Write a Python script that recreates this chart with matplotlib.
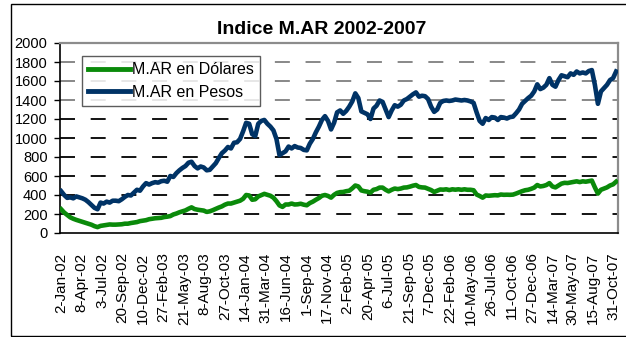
import numpy as np
import matplotlib.pyplot as plt
from matplotlib.patches import Rectangle

plt.rcParams['font.family'] = ['Liberation Sans', 'DejaVu Sans']

# tick labels of the category axis (one every 54 sessions)
tick_labels = ["2-Jan-02", "8-Apr-02", "3-Jul-02", "20-Sep-02", "10-Dec-02", "27-Feb-03",
               "21-May-03", "8-Aug-03", "27-Oct-03", "14-Jan-04", "31-Mar-04", "16-Jun-04",
               "1-Sep-04", "17-Nov-04", "2-Feb-05", "20-Apr-05", "6-Jul-05", "21-Sep-05",
               "7-Dec-05", "22-Feb-06", "10-May-06", "26-Jul-06", "11-Oct-06", "27-Dec-06",
               "14-Mar-07", "30-May-07", "15-Aug-07", "31-Oct-07"]
sessions_per_label = 54
sample_step = 8  # one value every 8 sessions

mar_pesos = [440, 400, 370, 375, 365, 385, 375, 365, 350, 325, 295, 265, 250, 320, 310, 330,
             320, 340, 340, 335, 355, 380, 400, 395, 425, 455, 445, 490, 525, 510, 525, 535,
             530, 545, 550, 540, 600, 590, 630, 660, 685, 705, 740, 750, 705, 680, 700, 690,
             660, 665, 700, 735, 790, 840, 868, 905, 890, 950, 955, 990, 1070, 1160, 1150, 1040,
             1020, 1150, 1180, 1190, 1150, 1120, 1080, 990, 820, 840, 860, 910, 890, 915, 900, 895,
             875, 870, 940, 990, 1060, 1120, 1190, 1230, 1180, 1090, 1160, 1270, 1290, 1255, 1285, 1330,
             1385, 1470, 1420, 1280, 1265, 1250, 1200, 1310, 1340, 1395, 1380, 1300, 1220, 1290, 1345, 1330,
             1350, 1395, 1410, 1435, 1460, 1480, 1435, 1445, 1440, 1410, 1330, 1275, 1300, 1370, 1390, 1395,
             1390, 1395, 1405, 1400, 1395, 1400, 1395, 1385, 1370, 1270, 1180, 1150, 1210, 1190, 1220, 1215,
             1190, 1220, 1215, 1205, 1220, 1225, 1260, 1300, 1360, 1390, 1420, 1445, 1490, 1565, 1515, 1530,
             1560, 1630, 1560, 1540, 1610, 1660, 1650, 1640, 1680, 1665, 1700, 1680, 1690, 1680, 1705, 1715,
             1560, 1360, 1490, 1525, 1560, 1610, 1630, 1700]

mar_dolares = [250, 215, 190, 165, 150, 138, 128, 118, 108, 98, 87, 72, 62, 75, 80, 85,
               90, 88, 88, 90, 92, 98, 98, 105, 110, 115, 125, 130, 135, 145, 150, 155,
               158, 160, 168, 172, 178, 195, 205, 218, 228, 238, 255, 270, 252, 245, 240, 236,
               222, 228, 240, 254, 268, 280, 298, 310, 310, 320, 330, 340, 360, 400, 395, 350,
               355, 385, 398, 412, 402, 392, 372, 335, 290, 275, 300, 300, 310, 300, 302, 308,
               298, 292, 315, 330, 350, 368, 392, 400, 390, 372, 402, 422, 430, 432, 440, 445,
               470, 500, 490, 448, 440, 435, 425, 455, 462, 478, 478, 455, 438, 455, 468, 462,
               468, 478, 480, 488, 498, 505, 485, 480, 478, 465, 452, 432, 445, 458, 456, 460,
               452, 460, 456, 460, 455, 460, 455, 455, 450, 405, 390, 372, 395, 392, 395, 398,
               396, 405, 402, 403, 402, 404, 415, 428, 440, 450, 455, 465, 478, 505, 490, 495,
               505, 525, 490, 480, 500, 520, 528, 526, 532, 538, 544, 536, 544, 540, 546, 552,
               480, 415, 455, 468, 480, 500, 512, 540]

y_ticks = np.arange(0, 2001, 200)

sessions = np.arange(len(mar_pesos)) * sample_step
tick_pos = np.arange(len(tick_labels)) * sessions_per_label

fig = plt.figure(figsize=(6.26, 3.37), dpi=100)
ax = fig.add_axes([60 / 626, 1 - 233 / 337, 558 / 626, 190 / 337])

# dashed horizontal gridlines, lighter on the upper rows
for v in y_ticks[1:-1]:
    col = '#7f7f7f' if v >= 1400 else '#000000'
    ax.axhline(v, color=col, lw=1.3, dashes=(8.3, 8.7), zorder=1)

ax.plot(sessions, mar_dolares, color='#0a8a0a', lw=3.3, label='M.AR en Dólares',
        solid_joinstyle='round', zorder=3)
ax.plot(sessions, mar_pesos, color='#003366', lw=3.3, label='M.AR en Pesos',
        solid_joinstyle='round', zorder=3)

ax.set_ylim(0, 2000)
ax.set_yticks(y_ticks)
ax.set_xlim(-3, tick_pos[-1] + 11)
ax.set_xticks(tick_pos)
ax.set_xticklabels(tick_labels, rotation=90, fontsize=11)
ax.tick_params(axis='x', length=0, pad=14)
ax.tick_params(axis='y', length=4, width=1, direction='out', pad=5, labelsize=10.5)

for side in ['top', 'right']:
    ax.spines[side].set_color('#8c8c8c')
    ax.spines[side].set_linewidth(1.6)
for side in ['left', 'bottom']:
    ax.spines[side].set_color('black')
    ax.spines[side].set_linewidth(1.2)

leg = ax.legend(loc='upper left', bbox_to_anchor=(22 / 558, 1 - 13 / 190), fontsize=11.5,
                frameon=True, fancybox=False, handlelength=2.6, handletextpad=0.1,
                labelspacing=0.45, borderpad=0.4, borderaxespad=0)
leg.get_frame().set_edgecolor('#333333')
leg.get_frame().set_linewidth(1.0)
for line in leg.get_lines():
    line.set_linewidth(3.5)

fig.text(322 / 626, 1 - 30 / 337, 'Indice M.AR 2002-2007', ha='center', va='center',
         fontsize=14, fontweight='bold')

# chart border
fig.patches.append(Rectangle((11 / 626, 1 / 337), 1.0, 332 / 337, transform=fig.transFigure,
                             fill=False, edgecolor='black', lw=1.0))

fig.savefig('out.png', dpi=100)
